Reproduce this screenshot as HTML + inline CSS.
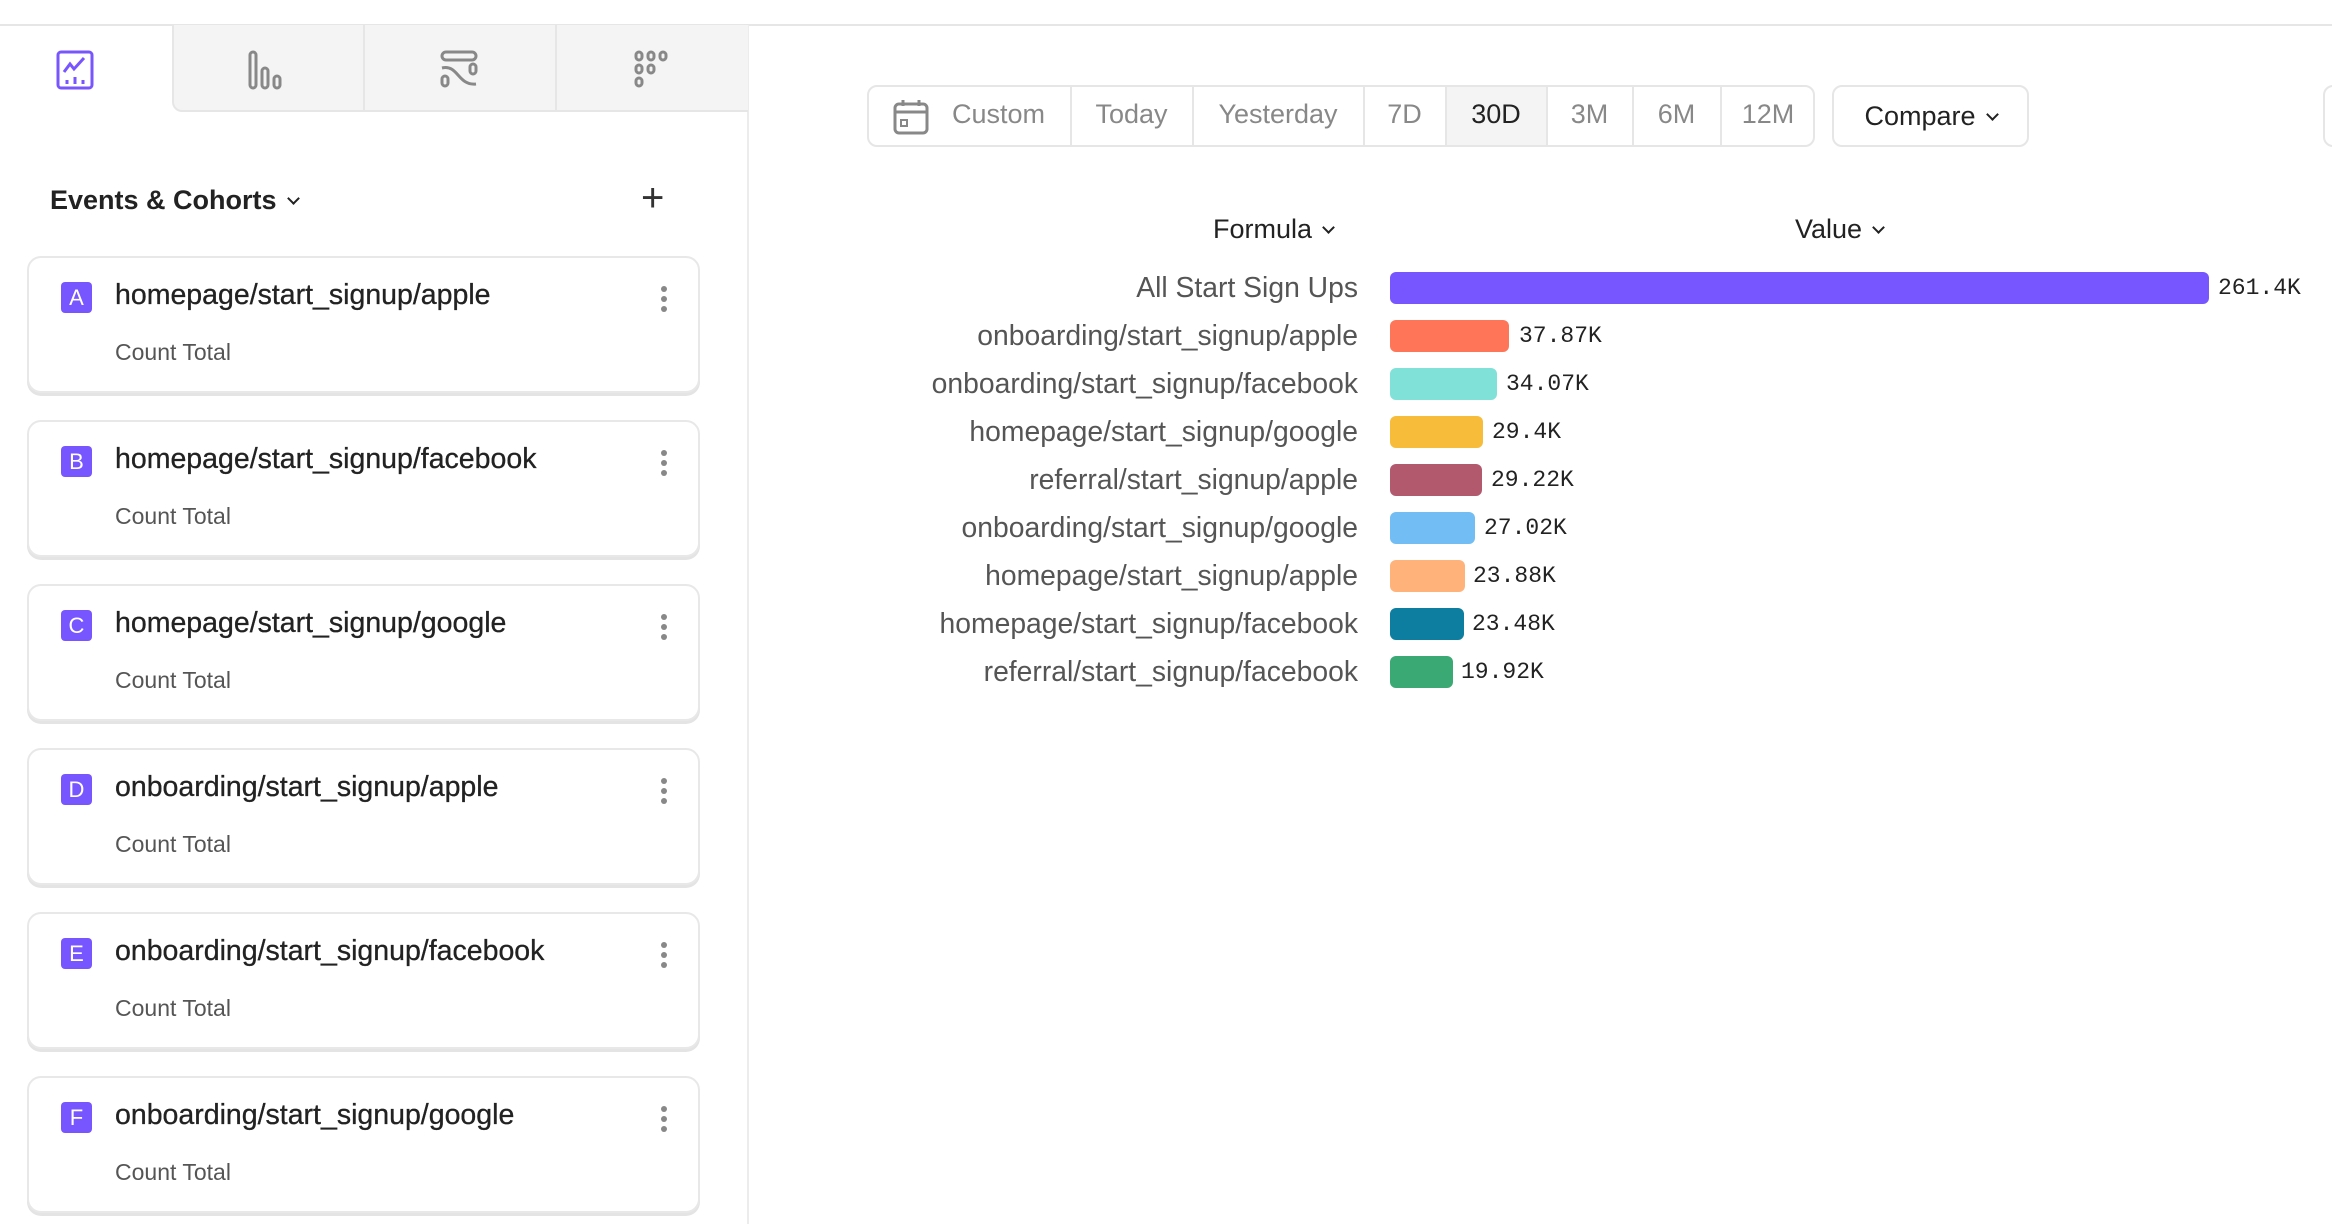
<!DOCTYPE html>
<html><head><meta charset="utf-8"><style>
*{box-sizing:border-box;margin:0;padding:0}
body{width:2332px;height:1224px;background:#fff;position:relative;overflow:hidden;font-family:"Liberation Sans",sans-serif;color:#222}
.abs{position:absolute}
.tab{position:absolute;top:25px;height:87px;background:#f4f4f4;border-bottom:2px solid #e6e6e6;border-left:2px solid #e6e6e6}
.card{position:absolute;left:27px;width:673px;height:137px;border:2px solid #e8e8e8;border-radius:14px;box-shadow:0 3px 0 #e4e4e4;background:#fff}
.badge{position:absolute;left:32px;top:24px;width:31px;height:31px;border-radius:4px;background:#7856ff;color:#fff;font-size:22px;text-align:center;line-height:31px}
.ct{position:absolute;left:86px;top:21px;font-size:28.5px;color:#222;-webkit-text-stroke:0.3px #222}
.sub{position:absolute;left:86px;top:81px;font-size:23px;color:#555}
.dots{position:absolute;left:632px;top:28px;width:6px}
.dots i{display:block;width:6px;height:6px;border-radius:3px;background:#888;margin-bottom:4px}
.seg{position:absolute;top:85px;height:62px;border-right:2px solid #e6e6e6;font-size:27px;color:#888;line-height:58px;text-align:center}
.lab{position:absolute;right:974px;font-size:28.3px;color:#555;white-space:nowrap}
.bar{position:absolute;left:1390px;height:32px;border-radius:6px}
.val{position:absolute;font-family:"Liberation Mono",monospace;font-size:23px;color:#222}
.chev{display:inline-block;width:9px;height:9px;border-right:2.5px solid #222;border-bottom:2.5px solid #222;transform:rotate(45deg);margin-left:12px;position:relative;top:-6px}
</style></head><body>
<div class="abs" style="left:0;top:24px;width:2332px;height:2px;background:#e6e6e6"></div>
<div class="abs" style="left:747px;top:25px;width:2px;height:1199px;background:#ececec"></div>
<div class="tab" style="left:172px;width:192px;border-bottom-left-radius:10px"></div>
<div class="tab" style="left:363px;width:193px"></div>
<div class="tab" style="left:555px;width:193px"></div>
<svg class="abs" style="left:56px;top:50px" width="40" height="40" viewBox="0 0 40 40"><rect x="2" y="2" width="34" height="36" rx="3" fill="none" stroke="#7856ff" stroke-width="3"/><polyline points="8,22 14,14 18,19 28,8" fill="none" stroke="#7856ff" stroke-width="3"/><line x1="11" y1="30" x2="11" y2="34" stroke="#7856ff" stroke-width="3"/><line x1="19" y1="27" x2="19" y2="34" stroke="#7856ff" stroke-width="3"/><line x1="27" y1="30" x2="27" y2="34" stroke="#7856ff" stroke-width="3"/></svg>
<svg class="abs" style="left:248px;top:50px" width="40" height="40" viewBox="0 0 40 40"><rect x="2" y="2" width="6" height="36" rx="3" fill="none" stroke="#888" stroke-width="3"/><rect x="14" y="18" width="6" height="20" rx="3" fill="none" stroke="#888" stroke-width="3"/><rect x="26" y="26" width="6" height="12" rx="3" fill="none" stroke="#888" stroke-width="3"/></svg>
<svg class="abs" style="left:440px;top:50px" width="40" height="40" viewBox="0 0 40 40"><rect x="2" y="2" width="34" height="8" rx="4" fill="none" stroke="#888" stroke-width="3"/><rect x="2" y="26" width="6" height="10" rx="3" fill="none" stroke="#888" stroke-width="3"/><rect x="30" y="14" width="6" height="10" rx="3" fill="none" stroke="#888" stroke-width="3"/><path d="M2 18 C18 14,18 36,36 34" fill="none" stroke="#888" stroke-width="3"/></svg>
<svg class="abs" style="left:634px;top:50px" width="40" height="40" viewBox="0 0 40 40"><g fill="none" stroke="#888" stroke-width="3"><rect x="2" y="2" width="6" height="8" rx="3"/><rect x="14" y="2" width="6" height="8" rx="3"/><rect x="26" y="2" width="6" height="8" rx="3"/><rect x="2" y="15" width="6" height="8" rx="3"/><rect x="14" y="15" width="6" height="8" rx="3"/><rect x="2" y="28" width="6" height="8" rx="3"/></g></svg>
<div class="abs" style="left:50px;top:185px;font-size:27px;font-weight:bold;color:#222">Events &amp; Cohorts<span class="chev"></span></div>
<div class="abs" style="left:641px;top:176px;font-size:40px;font-weight:300;color:#333">+</div>
<div class="card" style="top:256px"><div class="badge">A</div><div class="ct">homepage/start_signup/apple</div><div class="sub">Count Total</div><div class="dots"><i></i><i></i><i></i></div></div>
<div class="card" style="top:420px"><div class="badge">B</div><div class="ct">homepage/start_signup/facebook</div><div class="sub">Count Total</div><div class="dots"><i></i><i></i><i></i></div></div>
<div class="card" style="top:584px"><div class="badge">C</div><div class="ct">homepage/start_signup/google</div><div class="sub">Count Total</div><div class="dots"><i></i><i></i><i></i></div></div>
<div class="card" style="top:748px"><div class="badge">D</div><div class="ct">onboarding/start_signup/apple</div><div class="sub">Count Total</div><div class="dots"><i></i><i></i><i></i></div></div>
<div class="card" style="top:912px"><div class="badge">E</div><div class="ct">onboarding/start_signup/facebook</div><div class="sub">Count Total</div><div class="dots"><i></i><i></i><i></i></div></div>
<div class="card" style="top:1076px"><div class="badge">F</div><div class="ct">onboarding/start_signup/google</div><div class="sub">Count Total</div><div class="dots"><i></i><i></i><i></i></div></div>
<div class="abs" style="left:867px;top:85px;width:948px;height:62px;border:2px solid #e6e6e6;border-radius:10px"></div>
<div class="abs" style="left:1446px;top:87px;width:101px;height:58px;background:#f4f4f4"></div>
<div class="seg" style="left:867px;width:205px;padding-left:60px">Custom</div>
<svg class="abs" style="left:893px;top:99px" width="36" height="36" viewBox="0 0 36 36"><rect x="2" y="5" width="32" height="29" rx="4" fill="none" stroke="#888" stroke-width="3"/><line x1="2" y1="13" x2="34" y2="13" stroke="#888" stroke-width="3"/><line x1="10" y1="1" x2="10" y2="7" stroke="#888" stroke-width="3"/><line x1="26" y1="1" x2="26" y2="7" stroke="#888" stroke-width="3"/><rect x="8" y="21" width="6" height="6" fill="none" stroke="#888" stroke-width="2"/></svg>
<div class="seg" style="left:1071px;width:123px">Today</div>
<div class="seg" style="left:1193px;width:172px">Yesterday</div>
<div class="seg" style="left:1364px;width:83px">7D</div>
<div class="seg" style="left:1446px;width:102px;color:#222">30D</div>
<div class="seg" style="left:1547px;width:87px">3M</div>
<div class="seg" style="left:1633px;width:89px">6M</div>
<div class="seg" style="left:1721px;width:94px;border-right:none">12M</div>
<div class="abs" style="left:1832px;top:85px;width:197px;height:62px;border:2px solid #e6e6e6;border-radius:10px;font-size:27px;line-height:58px;text-align:center;color:#222">Compare<span class="chev"></span></div>
<div class="abs" style="left:2323px;top:85px;width:40px;height:62px;border:2px solid #e6e6e6;border-radius:10px"></div>
<div class="abs" style="left:1213px;top:214px;font-size:27px;color:#222">Formula<span class="chev"></span></div>
<div class="abs" style="left:1795px;top:214px;font-size:27px;color:#222">Value<span class="chev"></span></div>

<div class="lab" style="top:271px">All Start Sign Ups</div>
<div class="bar" style="top:272px;width:819px;background:#7856ff"></div><div class="val" style="left:2218px;top:275px">261.4K</div>
<div class="lab" style="top:319px">onboarding/start_signup/apple</div>
<div class="bar" style="top:320px;width:119px;background:#ff7557"></div><div class="val" style="left:1519px;top:323px">37.87K</div>
<div class="lab" style="top:367px">onboarding/start_signup/facebook</div>
<div class="bar" style="top:368px;width:107px;background:#80e1d9"></div><div class="val" style="left:1506px;top:371px">34.07K</div>
<div class="lab" style="top:415px">homepage/start_signup/google</div>
<div class="bar" style="top:416px;width:93px;background:#f8bc3b"></div><div class="val" style="left:1492px;top:419px">29.4K</div>
<div class="lab" style="top:463px">referral/start_signup/apple</div>
<div class="bar" style="top:464px;width:92px;background:#b2596e"></div><div class="val" style="left:1491px;top:467px">29.22K</div>
<div class="lab" style="top:511px">onboarding/start_signup/google</div>
<div class="bar" style="top:512px;width:85px;background:#72bef4"></div><div class="val" style="left:1484px;top:515px">27.02K</div>
<div class="lab" style="top:559px">homepage/start_signup/apple</div>
<div class="bar" style="top:560px;width:75px;background:#ffb27a"></div><div class="val" style="left:1473px;top:563px">23.88K</div>
<div class="lab" style="top:607px">homepage/start_signup/facebook</div>
<div class="bar" style="top:608px;width:74px;background:#0d7ea0"></div><div class="val" style="left:1472px;top:611px">23.48K</div>
<div class="lab" style="top:655px">referral/start_signup/facebook</div>
<div class="bar" style="top:656px;width:63px;background:#3ba974"></div><div class="val" style="left:1461px;top:659px">19.92K</div>
</body></html>
